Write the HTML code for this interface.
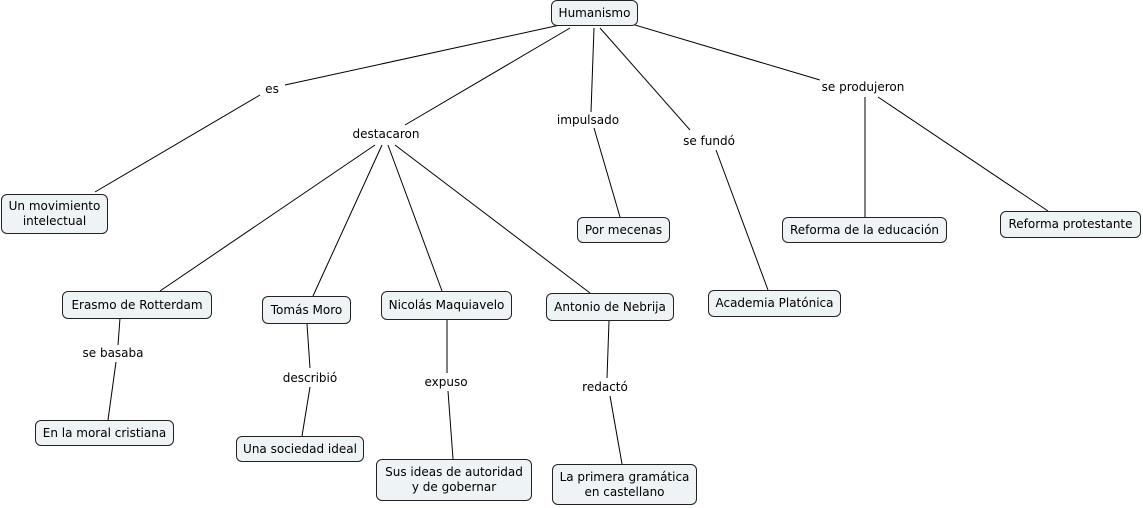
<!DOCTYPE html>
<html><head><meta charset="utf-8"><style>
body{margin:0;width:1143px;height:508px;background:#fff;position:relative;overflow:hidden;font-family:"DejaVu Sans","Liberation Sans",sans-serif;font-size:12px;color:#000}
.n{position:absolute;box-sizing:border-box;border:1px solid #222;border-radius:6px;background:#eef3f5;display:flex;align-items:center;justify-content:center;text-align:center;line-height:15px}
.l{position:absolute;background:#fff;transform:translate(-50%,-50%);white-space:nowrap;padding:1px 2px}
svg{position:absolute;left:0;top:0}
</style></head><body>
<svg width="1143" height="508" stroke="#000" stroke-width="1">
<line x1="560" y1="25" x2="285" y2="85"/><line x1="260" y1="95" x2="95" y2="192"/>
<line x1="570" y1="28" x2="405" y2="125"/>
<line x1="375" y1="145" x2="160" y2="291"/><line x1="382" y1="145" x2="313" y2="296"/>
<line x1="388" y1="145" x2="442" y2="291"/><line x1="395" y1="145" x2="590" y2="293"/>
<line x1="594" y1="28" x2="591" y2="112"/><line x1="594" y1="128" x2="620" y2="217"/>
<line x1="600" y1="28" x2="690" y2="130"/><line x1="716" y1="150" x2="768" y2="290"/>
<line x1="625" y1="22" x2="820" y2="80"/><line x1="865" y1="97" x2="865" y2="217"/><line x1="878" y1="97" x2="1048" y2="211"/>
<line x1="120" y1="318" x2="118" y2="345"/><line x1="116" y1="362" x2="108" y2="420"/>
<line x1="307" y1="324" x2="310" y2="368"/><line x1="310" y1="387" x2="302" y2="436"/>
<line x1="447" y1="320" x2="447" y2="373"/><line x1="448" y1="391" x2="453" y2="459"/>
<line x1="609" y1="321" x2="607" y2="378"/><line x1="610" y1="396" x2="622" y2="464"/>
</svg>
<div class="n" style="left:551px;top:0;width:87px;height:26px">Humanismo</div>
<div class="n" style="left:1px;top:194px;width:107px;height:40px">Un movimiento<br>intelectual</div>
<div class="n" style="left:62px;top:291px;width:150px;height:28px">Erasmo de Rotterdam</div>
<div class="n" style="left:262px;top:296px;width:89px;height:28px">Tomás Moro</div>
<div class="n" style="left:381px;top:291px;width:131px;height:29px">Nicolás Maquiavelo</div>
<div class="n" style="left:546px;top:293px;width:128px;height:28px">Antonio de Nebrija</div>
<div class="n" style="left:577px;top:217px;width:93px;height:26px">Por mecenas</div>
<div class="n" style="left:708px;top:290px;width:133px;height:27px">Academia Platónica</div>
<div class="n" style="left:782px;top:217px;width:165px;height:26px">Reforma de la educación</div>
<div class="n" style="left:1000px;top:211px;width:141px;height:27px">Reforma protestante</div>
<div class="n" style="left:35px;top:420px;width:139px;height:26px">En la moral cristiana</div>
<div class="n" style="left:236px;top:436px;width:128px;height:26px">Una sociedad ideal</div>
<div class="n" style="left:376px;top:459px;width:156px;height:42px">Sus ideas de autoridad<br>y de gobernar</div>
<div class="n" style="left:552px;top:464px;width:145px;height:41px">La primera gramática<br>en castellano</div>
<div class="l" style="left:272px;top:89px">es</div>
<div class="l" style="left:386px;top:134px">destacaron</div>
<div class="l" style="left:588px;top:120px">impulsado</div>
<div class="l" style="left:709px;top:141px">se fundó</div>
<div class="l" style="left:863px;top:87px">se produjeron</div>
<div class="l" style="left:113px;top:353px">se basaba</div>
<div class="l" style="left:310px;top:378px">describió</div>
<div class="l" style="left:446px;top:382px">expuso</div>
<div class="l" style="left:605px;top:387px">redactó</div>
</body></html>
